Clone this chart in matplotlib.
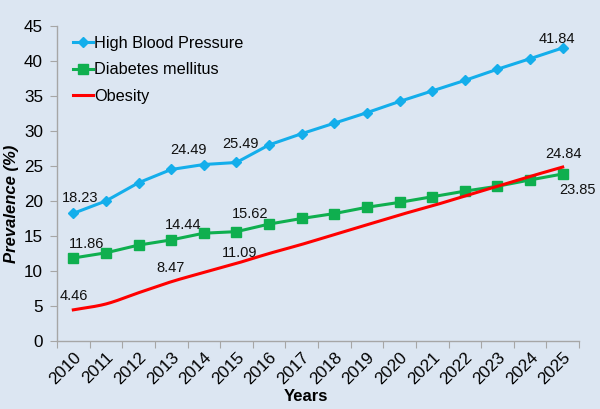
import numpy as np
import matplotlib
matplotlib.use("Agg")
import matplotlib.pyplot as plt

years = [str(y) for y in range(2010, 2026)]
hbp = [18.23, 20.0, 22.6, 24.49, 25.2, 25.49, 28.0, 29.6, 31.1, 32.6, 34.2, 35.7, 37.2, 38.8, 40.3, 41.84]
diabetes = [11.86, 12.6, 13.7, 14.44, 15.4, 15.62, 16.7, 17.5, 18.2, 19.1, 19.8, 20.6, 21.4, 22.1, 23.0, 23.85]
obesity = [4.46, 5.3, 6.9, 8.47, 9.8, 11.09, 12.5, 13.8, 15.2, 16.6, 18.0, 19.3, 20.7, 22.1, 23.5, 24.84]

# labelled points: (index, dx_px, dy_px)
labels_hbp = [(0, 7, 15), (3, 17, 19), (5, 4, 18), (15, -6, 9)]
labels_dm = [(0, 13, 14), (3, 12, 15), (5, 14, 18), (15, 15, -16)]
labels_ob = [(0, 0, 14), (3, -1, 14), (5, 3, 10), (15, 1, 13)]

plt.rcParams['font.family'] = ['Liberation Sans', 'DejaVu Sans']
bg = '#DCE6F2'
fig = plt.figure(figsize=(6, 4.09), dpi=100, facecolor=bg)
ax = fig.add_axes([0.095, 0.166, 0.87, 0.771], facecolor=bg)

x = np.arange(len(years)) + 0.5

def smooth(xs, ys, n=20):
    xs = np.asarray(xs, float); ys = np.asarray(ys, float)
    px = np.concatenate([[2*xs[0]-xs[1]], xs, [2*xs[-1]-xs[-2]]])
    py = np.concatenate([[2*ys[0]-ys[1]], ys, [2*ys[-1]-ys[-2]]])
    ox, oy = [], []
    for i in range(1, len(px)-2):
        t = np.linspace(0, 1, n, endpoint=False)
        for arr, out in ((px, ox), (py, oy)):
            p0, p1, p2, p3 = arr[i-1], arr[i], arr[i+1], arr[i+2]
            out.extend(0.5*((2*p1) + (-p0+p2)*t + (2*p0-5*p1+4*p2-p3)*t**2 + (-p0+3*p1-3*p2+p3)*t**3))
    ox.append(xs[-1]); oy.append(ys[-1])
    return np.array(ox), np.array(oy)

blue = '#14AEEB'; green = '#0FAF4F'; red = '#FF0000'
ax.plot(x, hbp, color=blue, lw=2.2, marker='D', ms=5.5, label='High Blood Pressure', zorder=3)
ax.plot(x, diabetes, color=green, lw=2.2, marker='s', ms=7.5, label='Diabetes mellitus', zorder=3)
sx, sy = smooth(x, obesity)
ax.plot(sx, sy, color=red, lw=2.2, label='Obesity', zorder=3)

for series, labs in ((hbp, labels_hbp), (diabetes, labels_dm), (obesity, labels_ob)):
    for i, dx, dy in labs:
        ax.annotate(f"{series[i]:.2f}", (x[i], series[i]), xytext=(dx*0.72, dy*0.72),
                    textcoords='offset points', ha='center', va='center', fontsize=10.5, color='#111111')

ax.set_xlim(0, len(years))
ax.set_ylim(0, 45)
ax.set_yticks(np.arange(0, 46, 5))
ax.set_xticks(np.arange(len(years)+1))
ax.set_xticklabels([])
ax.set_xticks(x, minor=True)
ax.set_xticklabels(years, minor=True, rotation=45, ha='right', va='top', rotation_mode='anchor', fontsize=12.3)
ax.tick_params(axis='x', which='minor', length=0, pad=6)
ax.tick_params(axis='x', which='major', length=5, color='#A6A6A6', direction='out')
ax.tick_params(axis='y', length=5, color='#A6A6A6', labelsize=12.3, pad=5)
for s in ('top', 'right'):
    ax.spines[s].set_visible(False)
for s in ('left', 'bottom'):
    ax.spines[s].set_color('#A6A6A6')
    ax.spines[s].set_linewidth(1.0)

ax.set_xlabel('Years', fontsize=12, fontweight='bold')
ax.xaxis.set_label_coords(0.477, -0.152)
ax.set_ylabel('Prevalence (%)', fontsize=12, fontweight='bold', style='italic')
ax.yaxis.set_label_coords(-0.073, 0.434)

leg = ax.legend(loc='upper left', bbox_to_anchor=(0.012, 1.0), frameon=False, fontsize=11.7,
                handlelength=1.25, handletextpad=0.05, labelspacing=0.72, borderaxespad=0.2)

fig.savefig('out.png', dpi=100, facecolor=bg)
